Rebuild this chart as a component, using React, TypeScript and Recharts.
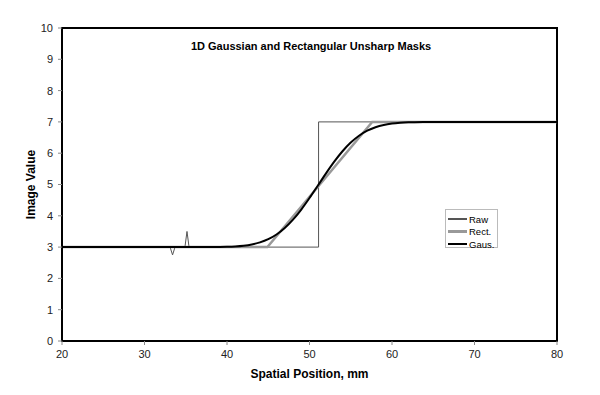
import React from 'react';
import { LineChart, Line, XAxis, YAxis, ReferenceArea, Label } from 'recharts';

// tick labels
const xTicks = [20, 30, 40, 50, 60, 70, 80];
const yTicks = [0, 1, 2, 3, 4, 5, 6, 7, 8, 9, 10];

// raw step profile, with two small noise spikes
const rawX = [20, 33.1, 33.4, 33.7, 34.9, 35.15, 35.4, 51.1, 51.1, 80];
const rawY = [3, 3, 2.75, 3, 3, 3.5, 3, 3, 7, 7];

// rectangular mask: straight ramp
const rectX = [20, 44.9, 57.6, 80];
const rectY = [3, 3, 7, 7];

// gaussian mask: smooth s-curve
const gausX = [20, 36, 38, 40, 41, 42, 43, 44, 45, 46, 47, 48, 49, 50, 51, 52, 53, 54, 55, 56, 57, 58, 59, 60, 61, 62, 64, 66, 80];
const gausY = [3, 3, 3.002, 3.011, 3.023, 3.046, 3.086, 3.152, 3.254, 3.404, 3.611, 3.877, 4.199, 4.567, 4.96, 5.356, 5.73, 6.063, 6.341, 6.559, 6.72, 6.831, 6.904, 6.948, 6.973, 6.987, 6.997, 7, 7];

const toPoints = (xs: number[], ys: number[]) => xs.map((x, i) => ({ x, y: ys[i] }));

const rawData = toPoints(rawX, rawY);
const rectData = toPoints(rectX, rectY);
const gausData = toPoints(gausX, gausY);

const font = '"Liberation Sans", Arial, sans-serif';

const legendItems = [
  { name: 'Raw', color: '#555555', width: 2 },
  { name: 'Rect.', color: '#999999', width: 3 },
  { name: 'Gaus.', color: '#000000', width: 2 },
];

const App: React.FC = () => {
  return (
    <div style={{ position: 'absolute', left: 0, top: 0, width: 600, height: 395, background: '#fff', fontFamily: font }}>
      <LineChart width={600} height={395} margin={{ top: 28, right: 43, bottom: 24, left: 22 }}>
        <XAxis
          dataKey="x"
          type="number"
          domain={[20, 80]}
          ticks={xTicks}
          allowDataOverflow
          height={30}
          tickSize={4}
          tickMargin={5}
          axisLine={{ stroke: '#000', strokeWidth: 2 }}
          tickLine={{ stroke: '#888' }}
          tick={{ fill: '#222', fontSize: 11, fontFamily: font }}
        >
          <Label value="Spatial Position, mm" position="bottom" offset={-2} style={{ fontWeight: 'bold', fontSize: 12, fontFamily: font, fill: '#000' }} />
        </XAxis>
        <YAxis
          dataKey="y"
          type="number"
          domain={[0, 10]}
          ticks={yTicks}
          width={40}
          tickSize={4}
          tickMargin={5}
          axisLine={{ stroke: '#000', strokeWidth: 2 }}
          tickLine={{ stroke: '#888' }}
          tick={{ fill: '#222', fontSize: 11, fontFamily: font }}
        >
          <Label value="Image Value" angle={-90} position="insideLeft" offset={9} style={{ textAnchor: 'middle', fontWeight: 'bold', fontSize: 12, fontFamily: font, fill: '#000' }} />
        </YAxis>
        <ReferenceArea x1={20} x2={80} y1={0} y2={10} fill="none" fillOpacity={0} stroke="#000" strokeWidth={2} />
        <Line data={rawData} dataKey="y" type="linear" stroke="#555555" strokeWidth={1} dot={false} isAnimationActive={false} />
        <Line data={rectData} dataKey="y" type="linear" stroke="#999999" strokeWidth={2.5} dot={false} isAnimationActive={false} />
        <Line data={gausData} dataKey="y" type="monotone" stroke="#000000" strokeWidth={2} dot={false} isAnimationActive={false} />
      </LineChart>
      <div style={{ position: 'absolute', left: 0, width: 622, top: 40, textAlign: 'center', fontWeight: 'bold', fontSize: 11, color: '#000' }}>
        1D Gaussian and Rectangular Unsharp Masks
      </div>
      <div style={{ position: 'absolute', left: 445, top: 209, width: 53, height: 39, border: '1px solid #bbb', padding: '3px 0 0 2px', boxSizing: 'border-box' }}>
        {legendItems.map((it) => (
          <div key={it.name} style={{ display: 'flex', alignItems: 'center', height: 12.5, fontSize: 9.5, color: '#000' }}>
            <div style={{ width: 19, height: it.width, background: it.color, marginRight: 2 }} />
            <span>{it.name}</span>
          </div>
        ))}
      </div>
    </div>
  );
};

export default App;
